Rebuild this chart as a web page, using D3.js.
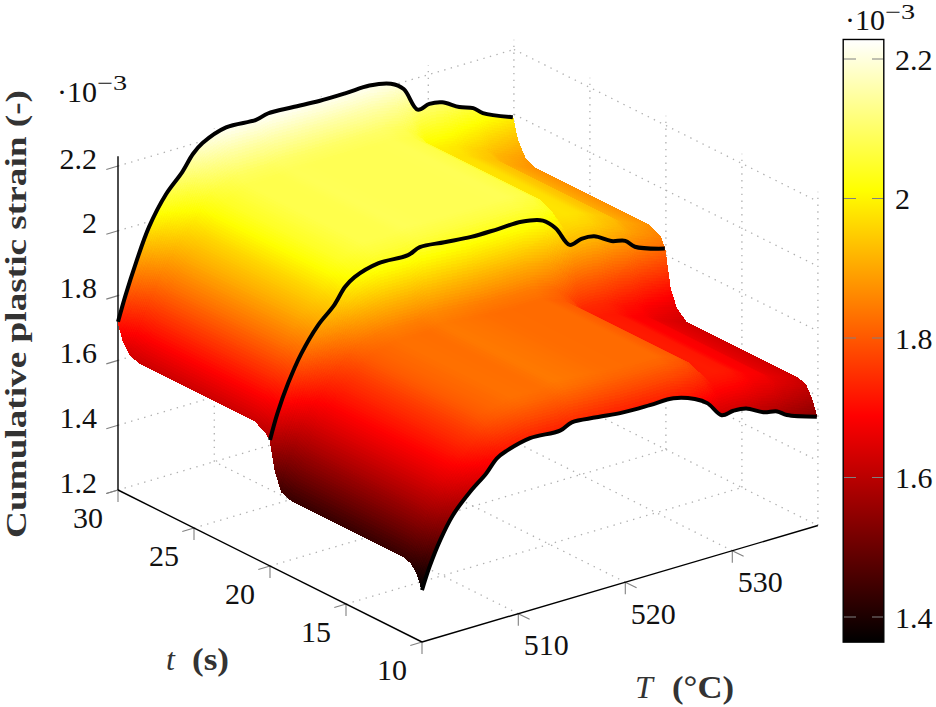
<!DOCTYPE html>
<html>
<head>
<meta charset="utf-8">
<script src="https://cdn.jsdelivr.net/npm/d3@7"></script>
<style>
  html, body { margin: 0; padding: 0; background: #fff; }
  svg { display: block; }
  text { font-family: "Liberation Serif", serif; fill: #111; }
</style>
</head>
<body>
<svg id="chart" width="936" height="707"></svg>
<script>
//////////
// DATA //
//////////

var temps = [501, 501.7, 502.7, 503.9, 505.5, 507, 508, 508.9, 511.1, 513.9, 515, 517.3,
             519.8, 522.3, 524.5, 526.5, 527.7, 529, 530.1, 531.3, 532.9, 534.2, 535.1, 537.9];

var strainT10 = [1.360,1.425,1.498,1.564,1.620,1.662,1.699,1.713,1.731,1.727,1.742,1.735,1.726,1.724,1.724,1.702,1.677,1.628,1.631,1.626,1.599,1.589,1.569,1.537];
var strainT103 = [1.401,1.469,1.545,1.614,1.672,1.717,1.754,1.768,1.786,1.782,1.797,1.790,1.781,1.779,1.779,1.757,1.729,1.678,1.681,1.676,1.649,1.639,1.619,1.580];
var strainT107 = [1.426,1.495,1.573,1.643,1.704,1.750,1.787,1.801,1.819,1.815,1.830,1.823,1.814,1.812,1.812,1.790,1.761,1.707,1.710,1.705,1.678,1.668,1.648,1.616];
var strainLow = [1.435,1.505,1.583,1.654,1.715,1.762,1.799,1.813,1.831,1.827,1.842,1.835,1.826,1.824,1.824,1.802,1.772,1.718,1.721,1.716,1.689,1.679,1.659,1.627];
var strainT192 = [1.447,1.520,1.600,1.672,1.734,1.782,1.819,1.833,1.851,1.847,1.862,1.855,1.846,1.844,1.844,1.822,1.792,1.738,1.741,1.736,1.710,1.700,1.682,1.656];
var strainT196 = [1.500,1.572,1.652,1.726,1.793,1.840,1.880,1.898,1.917,1.914,1.929,1.922,1.913,1.912,1.912,1.893,1.861,1.802,1.808,1.803,1.775,1.764,1.741,1.708];
var strainT20 = [1.589,1.665,1.748,1.826,1.900,1.947,1.993,2.015,2.036,2.034,2.048,2.041,2.033,2.033,2.034,2.018,1.983,1.919,1.927,1.923,1.893,1.881,1.854,1.821];
var strainT203 = [1.607,1.657,1.730,1.812,1.893,1.946,1.997,2.027,2.059,2.060,2.069,2.066,2.066,2.066,2.068,2.054,2.028,1.955,1.962,1.955,1.930,1.914,1.890,1.852];
var strainHigh = [1.624,1.674,1.747,1.829,1.910,1.963,2.014,2.044,2.076,2.077,2.086,2.083,2.083,2.083,2.085,2.071,2.045,1.972,1.979,1.972,1.947,1.931,1.907,1.869];
var strainT292 = [1.634,1.686,1.761,1.845,1.926,1.979,2.030,2.059,2.091,2.091,2.100,2.097,2.097,2.097,2.099,2.085,2.058,1.985,1.992,1.985,1.960,1.944,1.920,1.885];
var strainT297 = [1.672,1.734,1.817,1.907,1.990,2.043,2.092,2.119,2.149,2.147,2.156,2.153,2.151,2.151,2.153,2.139,2.112,2.037,2.044,2.037,2.010,1.994,1.970,1.931];
var strainT30 = [1.719,1.794,1.887,1.984,2.070,2.123,2.169,2.194,2.221,2.217,2.226,2.223,2.218,2.218,2.220,2.206,2.178,2.102,2.109,2.102,2.072,2.056,2.032,1.992];

var times = [10, 10.3, 10.7, 11.2, 18.6, 19.25, 19.65, 20, 20.3, 21, 28.5, 29.2, 29.7, 30];
var strainRows = [strainT10, strainT103, strainT107, strainLow, strainLow, strainT192, strainT196,
                  strainT20, strainT203, strainHigh, strainHigh, strainT292, strainT297, strainT30];

// black curves sit on these three rows
var curveRows = [
    { t: 10, values: strainT10 },
    { t: 20, values: strainT20 },
    { t: 30, values: strainT30 }
];

var tempTicks = [510, 520, 530];
var timeTicks = [10, 15, 20, 25, 30];
var strainTicks = [1.2, 1.4, 1.6, 1.8, 2, 2.2];
var barTicks = [1.4, 1.6, 1.8, 2, 2.2];

var tempRange = [501, 538],
    timeRange = [10, 30],
    strainRange = [1.2, 2.23],
    colorStops = [1.364, 1.688, 2.012, 2.228],
    colorNames = ['#000000', '#ff0000', '#ffff00', '#ffffff'];

////////////
// SCALES //
////////////

var originX = 422,
    originY = 642;

var xOfTemp = d3.scaleLinear().domain(tempRange).range([0, 395.9]),
    yOfTemp = d3.scaleLinear().domain(tempRange).range([0, -116.5]),
    xOfTime = d3.scaleLinear().domain(timeRange).range([0, -304]),
    yOfTime = d3.scaleLinear().domain(timeRange).range([0, -152]),
    yOfStrain = d3.scaleLinear().domain([1.2, 2.2]).range([0, -324]);

var colorScale = d3.scaleLinear().domain(colorStops).range(colorNames).clamp(true);

var barY = d3.scaleLinear().domain([1.4, 2.2]).range([617, 59]);

function project(T, t, z) {
    return [
        originX + xOfTemp(T) + xOfTime(t),
        originY + yOfTemp(T) + yOfTime(t) + yOfStrain(z)
    ];
}

var svg = d3.select('#chart');

//////////
// GRID //
//////////

var gridLines = [];

strainTicks.forEach(function(z) {
    gridLines.push([[tempRange[0], timeRange[1], z], [tempRange[1], timeRange[1], z]]);
    gridLines.push([[tempRange[1], timeRange[1], z], [tempRange[1], timeRange[0], z]]);
});
tempTicks.forEach(function(T) {
    gridLines.push([[T, timeRange[0], 1.2], [T, timeRange[1], 1.2]]);
    gridLines.push([[T, timeRange[1], 1.2], [T, timeRange[1], strainRange[1]]]);
});
timeTicks.forEach(function(t) {
    if (t !== 10 && t !== 30) {
        gridLines.push([[tempRange[0], t, 1.2], [tempRange[1], t, 1.2]]);
    }
    gridLines.push([[tempRange[1], t, 1.2], [tempRange[1], t, strainRange[1]]]);
});

svg.append('g')
    .selectAll('line')
    .data(gridLines)
    .join('line')
    .attr('x1', function(d) { return project.apply(null, d[0])[0]; })
    .attr('y1', function(d) { return project.apply(null, d[0])[1]; })
    .attr('x2', function(d) { return project.apply(null, d[1])[0]; })
    .attr('y2', function(d) { return project.apply(null, d[1])[1]; })
    .attr('stroke', '#b0b0b0')
    .attr('stroke-width', 1.3)
    .attr('stroke-dasharray', '1.4 5.4');

///////////
// TICKS //
///////////

var tickMarks = [];

strainTicks.forEach(function(z) {
    tickMarks.push({ p: project(tempRange[0], 30, z), dx: -11.7, dy: 3.5 });
});
timeTicks.forEach(function(t) {
    tickMarks.push({ p: project(tempRange[0], t, 1.2), dx: -11.7, dy: 3.5 });
    tickMarks.push({ p: project(tempRange[0], t, 1.2), dx: 0, dy: 12 });
});
tempTicks.forEach(function(T) {
    tickMarks.push({ p: project(T, 10, 1.2), dx: 11.3, dy: 5.5 });
    tickMarks.push({ p: project(T, 10, 1.2), dx: 0, dy: 12 });
});

svg.append('g')
    .selectAll('line')
    .data(tickMarks)
    .join('line')
    .attr('x1', function(d) { return d.p[0]; })
    .attr('y1', function(d) { return d.p[1]; })
    .attr('x2', function(d) { return d.p[0] + d.dx; })
    .attr('y2', function(d) { return d.p[1] + d.dy; })
    .attr('stroke', '#808080')
    .attr('stroke-width', 1.1);

//////////
// AXES //
//////////

var axisLines = [
    [[tempRange[0], 30, 1.2], [tempRange[0], 30, strainRange[1]]],
    [[tempRange[0], 30, 1.2], [tempRange[0], 10, 1.2]],
    [[tempRange[0], 10, 1.2], [tempRange[1], 10, 1.2]]
];

svg.append('g')
    .selectAll('line')
    .data(axisLines)
    .join('line')
    .attr('x1', function(d) { return project.apply(null, d[0])[0]; })
    .attr('y1', function(d) { return project.apply(null, d[0])[1]; })
    .attr('x2', function(d) { return project.apply(null, d[1])[0]; })
    .attr('y2', function(d) { return project.apply(null, d[1])[1]; })
    .attr('stroke', '#000')
    .attr('stroke-width', 1.4);

/////////////
// SURFACE //
/////////////

// split every grid cell into small patches, back to front
var patches = [],
    patchSize = 3;

for (var r = times.length - 2; r >= 0; r--) {
    for (var c = temps.length - 2; c >= 0; c--) {
        var t0 = times[r], t1 = times[r + 1],
            T0 = temps[c], T1 = temps[c + 1],
            z00 = strainRows[r][c], z10 = strainRows[r][c + 1],
            z01 = strainRows[r + 1][c], z11 = strainRows[r + 1][c + 1];

        var a = project(T0, t0, z00), b = project(T1, t0, z10),
            d = project(T0, t1, z01), e = project(T1, t1, z11);

        var nT = Math.max(1, Math.ceil(Math.max(Math.hypot(b[0] - a[0], b[1] - a[1]), Math.hypot(e[0] - d[0], e[1] - d[1])) / patchSize)),
            nt = Math.max(1, Math.ceil(Math.max(Math.hypot(d[0] - a[0], d[1] - a[1]), Math.hypot(e[0] - b[0], e[1] - b[1])) / patchSize));

        for (var j = nt - 1; j >= 0; j--) {
            for (var i = nT - 1; i >= 0; i--) {
                var corners = [[i, j], [i + 1, j], [i + 1, j + 1], [i, j + 1]].map(function(k) {
                    var u = k[0] / nT, v = k[1] / nt;
                    var z = (1 - u) * (1 - v) * z00 + u * (1 - v) * z10 + (1 - u) * v * z01 + u * v * z11;
                    return { z: z, p: project(T0 + u * (T1 - T0), t0 + v * (t1 - t0), z) };
                });
                patches.push({
                    points: corners.map(function(k) { return k.p; }),
                    z: d3.mean(corners, function(k) { return k.z; })
                });
            }
        }
    }
}

svg.append('g')
    .attr('shape-rendering', 'crispEdges')
    .selectAll('path')
    .data(patches)
    .join('path')
    .attr('d', function(d) { return 'M' + d.points.join('L') + 'Z'; })
    .attr('fill', function(d) { return colorScale(d.z); })
    .attr('stroke', function(d) { return colorScale(d.z); })
    .attr('stroke-width', 1);

//////////////////
// BLACK CURVES //
//////////////////

var curveLine = d3.line().curve(d3.curveCatmullRom.alpha(0.5));

svg.append('g')
    .selectAll('path')
    .data(curveRows)
    .join('path')
    .attr('d', function(d) {
        return curveLine(d.values.map(function(z, i) { return project(temps[i], d.t, z); }));
    })
    .attr('fill', 'none')
    .attr('stroke', '#000')
    .attr('stroke-width', 4)
    .attr('stroke-linejoin', 'round');

/////////////////
// TICK LABELS //
/////////////////

var labelSize = 30;

svg.append('g')
    .selectAll('text')
    .data(strainTicks)
    .join('text')
    .attr('x', 97)
    .attr('y', function(d) { return project(tempRange[0], 30, d)[1] + 2.5; })
    .attr('text-anchor', 'end')
    .attr('font-size', labelSize)
    .text(function(d) { return d; });

svg.append('g')
    .selectAll('text')
    .data(timeTicks)
    .join('text')
    .attr('x', function(d) { return project(tempRange[0], d, 1.2)[0] - 30; })
    .attr('y', function(d) { return project(tempRange[0], d, 1.2)[1] + 38; })
    .attr('text-anchor', 'middle')
    .attr('font-size', labelSize)
    .text(function(d) { return d; });

svg.append('g')
    .selectAll('text')
    .data(tempTicks)
    .join('text')
    .attr('x', function(d) { return project(d, 10, 1.2)[0] + 28; })
    .attr('y', function(d) { return project(d, 10, 1.2)[1] + 41.5; })
    .attr('text-anchor', 'middle')
    .attr('font-size', labelSize)
    .text(function(d) { return d; });

/////////////////
// AXIS LABELS //
/////////////////

svg.append('text')
    .attr('transform', 'translate(26,538) rotate(-90)')
    .attr('font-size', 29)
    .attr('font-weight', 'bold')
    .attr('textLength', 448)
    .attr('lengthAdjust', 'spacingAndGlyphs')
    .style('fill', '#333')
    .text('Cumulative plastic strain (-)');

function axisLabel(name, nameX, unit, unitX, unitWidth, y) {
    svg.append('text')
        .attr('x', nameX)
        .attr('y', y)
        .attr('font-size', 32)
        .attr('font-style', 'italic')
        .style('fill', '#333')
        .text(name);
    svg.append('text')
        .attr('x', unitX)
        .attr('y', y)
        .attr('font-size', 32)
        .attr('font-weight', 'bold')
        .attr('textLength', unitWidth)
        .attr('lengthAdjust', 'spacingAndGlyphs')
        .style('fill', '#333')
        .text(unit);
}

axisLabel('t', 166, '(s)', 192, 37, 670);
axisLabel('T', 635, '(°C)', 672, 62, 698);

function scaleNote(x, y, superY) {
    svg.append('text')
        .attr('x', x)
        .attr('y', y)
        .attr('font-size', labelSize)
        .text('·10');
    svg.append('text')
        .attr('x', x + 40)
        .attr('y', superY)
        .attr('font-size', 21)
        .attr('textLength', 30)
        .attr('lengthAdjust', 'spacingAndGlyphs')
        .text('−3');
}

scaleNote(57, 101.5, 90);
scaleNote(845, 30, 19);

//////////////
// COLORBAR //
//////////////

var gradient = svg.append('defs')
    .append('linearGradient')
    .attr('id', 'barGradient')
    .attr('x1', 0).attr('x2', 0)
    .attr('y1', 1).attr('y2', 0);

gradient.selectAll('stop')
    .data(colorStops)
    .join('stop')
    .attr('offset', function(d) { return (d - colorStops[0]) / (colorStops[3] - colorStops[0]); })
    .attr('stop-color', function(d) { return colorScale(d); });

svg.append('rect')
    .attr('x', 843.2)
    .attr('y', barY(colorStops[3]))
    .attr('width', 40.6)
    .attr('height', barY(colorStops[0]) - barY(colorStops[3]))
    .attr('fill', 'url(#barGradient)')
    .attr('stroke', '#000')
    .attr('stroke-width', 1.4);

var barTickRows = svg.append('g')
    .selectAll('g')
    .data(barTicks)
    .join('g')
    .attr('transform', function(d) { return 'translate(0,' + barY(d) + ')'; });

barTickRows.append('line')
    .attr('x1', 844).attr('x2', 856)
    .attr('stroke', '#808080').attr('stroke-width', 1);

barTickRows.append('line')
    .attr('x1', 872).attr('x2', 883)
    .attr('stroke', '#808080').attr('stroke-width', 1);

barTickRows.append('text')
    .attr('x', 895)
    .attr('y', 10.5)
    .attr('font-size', labelSize)
    .text(function(d) { return d; });
</script>
</body>
</html>
